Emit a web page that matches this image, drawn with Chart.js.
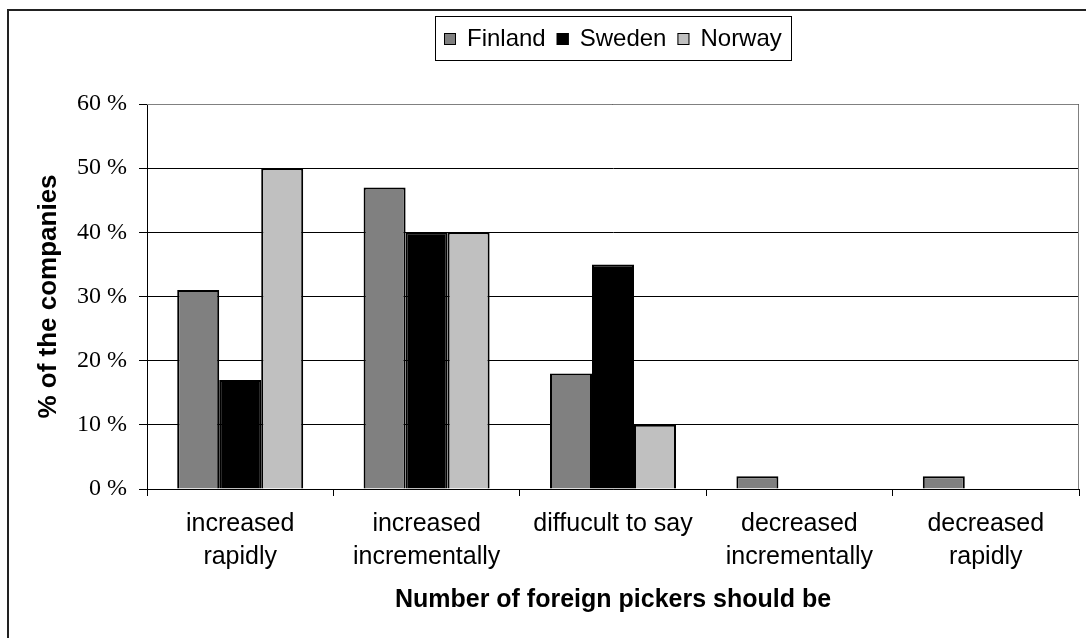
<!DOCTYPE html>
<html>
<head>
<meta charset="utf-8">
<script src="https://cdn.jsdelivr.net/npm/chart.js@4/dist/chart.umd.min.js"></script>
<style>
  html, body { margin: 0; padding: 0; background: #fff; overflow: hidden; }
  #wrap { position: relative; width: 1086px; height: 638px; }
  #frame { position: absolute; left: 7px; top: 9px; width: 2000px; height: 2000px;
           border-left: 2px solid #222; border-top: 2px solid #222; }
  #pickers { position: absolute; left: 0; top: 0; }
</style>
</head>
<body>
<div id="wrap">
  <div id="frame"></div>
  <canvas id="pickers" width="1086" height="638"></canvas>
</div>
<script>
// answers per country, share of companies (%)
const categories = [
	["increased", "rapidly"],
	["increased", "incrementally"],
	"diffucult to say",
	["decreased", "incrementally"],
	["decreased", "rapidly"],
];
const finland = [31, 47, 18, 2, 2];
const sweden = [17, 40, 35, 0, 0];
const norway = [50, 40, 10, 0, 0];
const yTicks = [0, 10, 20, 30, 40, 50, 60];

const sansFont = "Arial, 'Liberation Sans', sans-serif";
const serifFont = "'Times New Roman', 'Liberation Serif', serif";

// boxed legend on top, plus the grey plot frame on top/right
const frameAndLegend = {
	id: "frameAndLegend",
	afterDraw(chart) {
		const ctx = chart.ctx;
		const area = chart.chartArea;
		ctx.save();
		ctx.strokeStyle = "#808080";
		ctx.lineWidth = 1;
		ctx.beginPath();
		ctx.moveTo(area.left, Math.round(area.top) + 0.5);
		ctx.lineTo(Math.round(area.right) - 0.5, Math.round(area.top) + 0.5);
		ctx.lineTo(Math.round(area.right) - 0.5, area.bottom);
		ctx.stroke();

		// legend
		ctx.font = "24px " + sansFont;
		const swatch = 12;
		const gapText = 11;
		const gapItem = 11;
		const sets = chart.data.datasets;
		let total = 0;
		sets.forEach((ds, i) => {
			total += swatch + gapText + ctx.measureText(ds.label).width;
			if (i < sets.length - 1) total += gapItem;
		});
		const padX = 9;
		const boxW = Math.round(total + padX * 2);
		const boxLeft = Math.round((area.left + area.right) / 2 - boxW / 2);
		const boxTop = 16, boxH = 44;
		ctx.strokeStyle = "#000";
		ctx.strokeRect(boxLeft + 0.5, boxTop + 0.5, boxW, boxH);
		const midY = boxTop + boxH / 2;
		let x = boxLeft + padX;
		ctx.textBaseline = "middle";
		ctx.textAlign = "left";
		sets.forEach((ds) => {
			ctx.fillStyle = ds.backgroundColor;
			ctx.fillRect(x, midY - 5, swatch, swatch);
			ctx.strokeStyle = "#000";
			ctx.strokeRect(x + 0.5, midY - 4.5, swatch - 1, swatch - 1);
			x += swatch + gapText;
			ctx.fillStyle = "#000";
			ctx.fillText(ds.label, x, midY + 1);
			x += ctx.measureText(ds.label).width + gapItem;
		});
		ctx.restore();
	},
};

new Chart(document.getElementById("pickers"), {
	type: "bar",
	data: {
		labels: categories,
		datasets: [
			{ label: "Finland", data: finland, backgroundColor: "#808080" },
			{ label: "Sweden", data: sweden, backgroundColor: "#000000" },
			{ label: "Norway", data: norway, backgroundColor: "#c0c0c0" },
		],
	},
	options: {
		responsive: false,
		animation: false,
		devicePixelRatio: 1,
		layout: {
			padding: { top: 104, right: 7, left: 0, bottom: 0 },
		},
		datasets: {
			bar: {
				categoryPercentage: 0.676,
				barPercentage: 1.0,
				borderColor: "#000",
				borderWidth: 2,
			},
		},
		scales: {
			x: {
				afterFit: (scale) => {
					scale.height = 149;
				},
				ticks: {
					color: "#000",
					font: { family: sansFont, size: 25, lineHeight: 1.32 },
					padding: 12,
					maxRotation: 0,
					autoSkip: false,
				},
				grid: {
					offset: true,
					drawOnChartArea: false,
					color: "#000",
					tickLength: 7,
				},
				border: { color: "#000", width: 1 },
				title: {
					display: true,
					text: "Number of foreign pickers should be",
					color: "#000",
					font: { family: sansFont, size: 25, weight: "bold" },
					padding: { top: 0, bottom: 23 },
				},
			},
			y: {
				min: 0,
				max: 60,
				afterFit: (scale) => {
					scale.width = 147;
				},
				afterBuildTicks: (scale) => {
					scale.ticks = yTicks.map((v) => ({ value: v }));
				},
				ticks: {
					color: "#000",
					font: { family: serifFont, size: 24 },
					padding: 12,
					callback: (v) => v + " %",
				},
				grid: {
					color: "#000",
					tickLength: 8,
				},
				border: { color: "#000", width: 1 },
				title: {
					display: true,
					text: "% of the companies",
					color: "#000",
					font: { family: sansFont, size: 26, weight: "bold" },
					padding: { top: 33, bottom: 0 },
				},
			},
		},
		plugins: {
			legend: { display: false },
			tooltip: { enabled: false },
		},
	},
	plugins: [frameAndLegend],
});
</script>
</body>
</html>
